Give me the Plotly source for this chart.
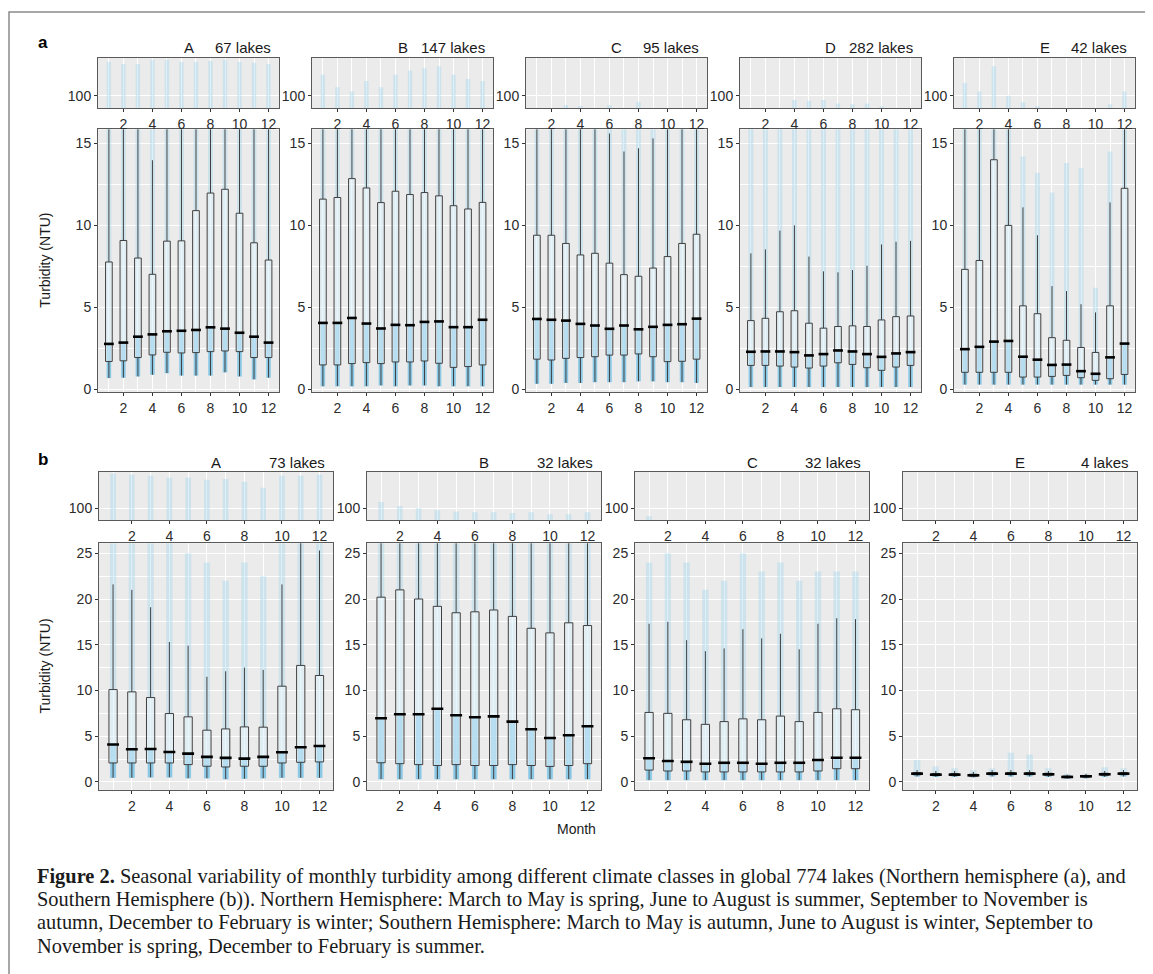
import plotly.graph_objects as go

W, H = 1153, 974
MONTHS = list(range(1, 13))

# ---------------- Northern Hemisphere (a) ----------------
NH_TITLES = ["A", "B", "C", "D", "E"]
NH_LAKES = ["67 lakes", "147 lakes", "95 lakes", "282 lakes", "42 lakes"]

NH_A_Q1 = [1.71, 1.75, 1.95, 2.11, 2.27, 2.23, 2.25, 2.31, 2.35, 2.31, 1.95, 1.95]
NH_A_MED = [2.78, 2.86, 3.22, 3.36, 3.55, 3.58, 3.63, 3.79, 3.71, 3.46, 3.22, 2.86]
NH_A_Q3 = [7.77, 9.08, 8.01, 7.02, 9.04, 9.06, 10.9, 11.97, 12.2, 10.74, 8.94, 7.89]
NH_A_LO = [0.70, 0.72, 0.80, 0.90, 1.00, 0.85, 0.85, 0.85, 1.05, 0.80, 0.62, 0.72]
NH_A_HI = [16.9, 19.1, 17.1, 13.97, 19.2, 19.3, 23.9, 26.4, 26.9, 23.4, 19.4, 16.8]
NH_A_PTMAX = [15.9, 15.9, 15.9, 15.9, 15.9, 15.9, 15.9, 15.9, 15.9, 15.9, 15.9, 15.9]
NH_A_OUT = [180, 175, 175, 185, 185, 180, 180, 182, 185, 180, 178, 175]

NH_B_Q1 = [1.50, 1.50, 1.58, 1.64, 1.58, 1.68, 1.68, 1.74, 1.60, 1.35, 1.40, 1.50]
NH_B_MED = [4.06, 4.06, 4.36, 4.02, 3.72, 3.94, 3.92, 4.12, 4.15, 3.80, 3.80, 4.25]
NH_B_Q3 = [11.6, 11.7, 12.85, 12.28, 11.39, 12.08, 11.88, 12.0, 11.8, 11.2, 11.0, 11.4]
NH_B_LO = [0.20, 0.20, 0.20, 0.20, 0.25, 0.20, 0.25, 0.25, 0.20, 0.20, 0.20, 0.20]
NH_B_HI = [26.7, 27.0, 29.7, 28.2, 26.1, 27.7, 27.2, 27.4, 27.1, 26.0, 25.4, 26.3]
NH_B_PTMAX = [15.9, 15.9, 15.9, 15.9, 15.9, 15.9, 15.9, 15.9, 15.9, 15.9, 15.9, 15.9]
NH_B_OUT = [150, 120, 110, 135, 120, 150, 160, 165, 170, 150, 140, 135]

NH_C_Q1 = [1.85, 1.80, 1.90, 1.95, 2.00, 2.10, 2.10, 2.17, 2.00, 1.70, 1.72, 1.85]
NH_C_MED = [4.30, 4.25, 4.20, 4.00, 3.90, 3.70, 3.90, 3.67, 3.82, 3.94, 3.98, 4.32]
NH_C_Q3 = [9.40, 9.40, 8.90, 8.20, 8.30, 7.70, 7.00, 6.90, 7.40, 8.10, 8.90, 9.46]
NH_C_LO = [0.35, 0.35, 0.40, 0.40, 0.45, 0.45, 0.45, 0.50, 0.50, 0.45, 0.45, 0.40]
NH_C_HI = [17.5, 17.8, 16.4, 16.0, 16.2, 15.6, 14.5, 14.7, 15.3, 17.6, 19.6, 20.8]
NH_C_PTMAX = [15.9, 15.9, 15.9, 15.9, 15.9, 15.9, 15.9, 15.9, 15.9, 15.9, 15.9, 15.9]
NH_C_OUT = [0, 0, 78, 76, 0, 78, 0, 86, 0, 0, 0, 0]

NH_D_Q1 = [1.47, 1.47, 1.43, 1.37, 1.31, 1.43, 1.63, 1.53, 1.33, 1.17, 1.37, 1.47]
NH_D_MED = [2.30, 2.32, 2.32, 2.28, 2.08, 2.16, 2.38, 2.32, 2.16, 1.99, 2.20, 2.28]
NH_D_Q3 = [4.20, 4.34, 4.74, 4.80, 4.04, 3.74, 3.84, 3.88, 3.84, 4.24, 4.44, 4.48]
NH_D_LO = [0.15, 0.15, 0.15, 0.15, 0.15, 0.15, 0.15, 0.15, 0.15, 0.15, 0.15, 0.15]
NH_D_HI = [8.30, 8.54, 9.68, 10.0, 8.10, 7.20, 7.14, 7.28, 7.54, 8.84, 9.00, 9.06]
NH_D_PTMAX = [15.9, 15.9, 15.9, 15.9, 15.9, 15.9, 15.9, 15.9, 15.9, 15.9, 15.9, 15.9]
NH_D_OUT = [0, 0, 0, 90, 88, 90, 82, 80, 82, 75, 0, 0]

NH_E_Q1 = [1.05, 1.05, 1.05, 1.05, 0.76, 0.76, 0.80, 0.86, 0.72, 0.56, 0.66, 0.92]
NH_E_MED = [2.46, 2.60, 2.92, 2.96, 2.00, 1.82, 1.50, 1.52, 1.12, 0.96, 1.96, 2.80]
NH_E_Q3 = [7.32, 7.86, 14.0, 10.0, 5.10, 4.62, 3.16, 3.00, 2.56, 2.26, 5.10, 12.26]
NH_E_LO = [0.30, 0.30, 0.30, 0.30, 0.30, 0.30, 0.30, 0.30, 0.30, 0.30, 0.30, 0.30]
NH_E_HI = [16.0, 17.0, 20.0, 18.0, 11.1, 9.4, 6.3, 6.0, 5.2, 4.7, 11.4, 20.0]
NH_E_PTMAX = [15.9, 15.9, 15.9, 15.9, 14.2, 13.2, 12.0, 13.8, 13.5, 6.2, 14.5, 15.9]
NH_E_OUT = [130, 110, 170, 100, 85, 75, 0, 0, 0, 0, 80, 110]

# ---------------- Southern Hemisphere (b) ----------------
SH_TITLES = ["A", "B", "C", "E"]
SH_LAKES = ["73 lakes", "32 lakes", "32 lakes", "4 lakes"]

SH_A_Q1 = [2.08, 2.08, 2.08, 2.08, 1.90, 1.72, 1.64, 1.72, 1.72, 2.08, 2.15, 2.19]
SH_A_MED = [4.09, 3.58, 3.61, 3.28, 3.10, 2.74, 2.63, 2.55, 2.74, 3.25, 3.80, 3.94]
SH_A_Q3 = [10.1, 9.85, 9.23, 7.48, 7.12, 5.66, 5.80, 6.02, 5.99, 10.47, 12.74, 11.64]
SH_A_LO = [0.45, 0.45, 0.50, 0.50, 0.40, 0.40, 0.30, 0.35, 0.40, 0.45, 0.45, 0.45]
SH_A_HI = [21.6, 21.0, 19.1, 15.3, 14.9, 11.5, 12.1, 12.5, 12.25, 21.6, 27.5, 25.3]
SH_A_PTMAX = [26.1, 26.1, 26.1, 26.1, 25.0, 24.0, 22.0, 24.0, 22.5, 26.1, 26.1, 26.1]
SH_A_OUT = [185, 182, 180, 175, 175, 170, 172, 165, 150, 180, 180, 182]

SH_B_Q1 = [2.1, 2.0, 1.9, 1.8, 1.9, 1.8, 1.8, 1.9, 1.8, 1.7, 1.8, 2.0]
SH_B_MED = [6.96, 7.4, 7.4, 8.0, 7.3, 7.07, 7.17, 6.6, 5.76, 4.8, 5.1, 6.1]
SH_B_Q3 = [20.2, 21.0, 20.0, 19.2, 18.5, 18.6, 18.8, 18.1, 16.8, 16.3, 17.4, 17.1]
SH_B_LO = [0.3, 0.3, 0.3, 0.3, 0.3, 0.3, 0.3, 0.3, 0.3, 0.3, 0.3, 0.3]
SH_B_HI = [47.3, 49.0, 47.2, 45.3, 43.4, 43.8, 44.3, 42.4, 39.3, 38.2, 40.8, 39.8]
SH_B_PTMAX = [26.1, 26.1, 26.1, 26.1, 26.1, 26.1, 26.1, 26.1, 26.1, 26.1, 26.1, 26.1]
SH_B_OUT = [115, 105, 100, 95, 92, 90, 90, 88, 90, 85, 85, 90]

SH_C_Q1 = [1.3, 1.2, 1.2, 1.1, 1.1, 1.1, 1.1, 1.1, 1.1, 1.2, 1.45, 1.45]
SH_C_MED = [2.6, 2.3, 2.2, 2.0, 2.1, 2.1, 2.0, 2.1, 2.1, 2.4, 2.65, 2.65]
SH_C_Q3 = [7.6, 7.5, 6.8, 6.3, 6.6, 6.9, 6.8, 7.2, 6.6, 7.6, 8.0, 7.9]
SH_C_LO = [0.2, 0.2, 0.2, 0.2, 0.2, 0.2, 0.2, 0.2, 0.2, 0.2, 0.2, 0.2]
SH_C_HI = [17.3, 17.5, 15.5, 14.3, 14.6, 16.7, 15.7, 16.2, 14.5, 17.3, 17.9, 17.8]
SH_C_PTMAX = [24.0, 25.0, 24.0, 21.0, 22.0, 25.0, 23.0, 24.0, 22.0, 23.0, 23.0, 23.0]
SH_C_OUT = [80, 0, 0, 0, 0, 0, 0, 0, 0, 0, 0, 0]

SH_E_Q1 = [0.79, 0.70, 0.70, 0.63, 0.80, 0.81, 0.80, 0.74, 0.47, 0.54, 0.74, 0.80]
SH_E_MED = [0.91, 0.80, 0.80, 0.73, 0.91, 0.91, 0.91, 0.84, 0.55, 0.62, 0.84, 0.91]
SH_E_Q3 = [1.02, 0.92, 0.92, 0.84, 1.02, 1.02, 1.02, 0.95, 0.64, 0.71, 0.95, 1.02]
SH_E_LO = [0.60, 0.55, 0.55, 0.50, 0.60, 0.60, 0.60, 0.55, 0.35, 0.40, 0.55, 0.60]
SH_E_HI = [1.30, 1.20, 1.20, 1.10, 1.30, 1.30, 1.30, 1.20, 0.80, 0.90, 1.20, 1.30]
SH_E_PTMAX = [2.4, 1.7, 1.5, 1.3, 1.5, 3.2, 3.0, 1.5, 0.9, 0.9, 1.6, 1.5]
SH_E_OUT = [0, 0, 0, 0, 0, 0, 0, 0, 0, 0, 0, 0]

X_TICKS = [2, 4, 6, 8, 10, 12]
NH_Y_TICKS = [0, 5, 10, 15]
SH_Y_TICKS = [0, 5, 10, 15, 20, 25]
STRIP_TICK = [100]

CAPTION = [
    "<b>Figure 2.</b> Seasonal variability of monthly turbidity among different climate classes in global 774 lakes (Northern hemisphere (a), and",
    "Southern Hemisphere (b)). Northern Hemisphere: March to May is spring, June to August is summer, September to November is",
    "autumn, December to February is winter; Southern Hemisphere: March to May is autumn, June to August is winter, September to",
    "November is spring, December to February is summer.",
]

# ---------------- layout geometry (page pixels) ----------------
OFF = 8                      # page body margin
FW, FH = W - OFF, H - OFF    # figure size so it fits the window
FONT = "Liberation Sans, Arial, sans-serif"
TXT = "#1a1a1a"
BORDER = "#5a5a5a"

panels = []
nh_data = [
    (NH_A_Q1, NH_A_MED, NH_A_Q3, NH_A_LO, NH_A_HI, NH_A_PTMAX, NH_A_OUT),
    (NH_B_Q1, NH_B_MED, NH_B_Q3, NH_B_LO, NH_B_HI, NH_B_PTMAX, NH_B_OUT),
    (NH_C_Q1, NH_C_MED, NH_C_Q3, NH_C_LO, NH_C_HI, NH_C_PTMAX, NH_C_OUT),
    (NH_D_Q1, NH_D_MED, NH_D_Q3, NH_D_LO, NH_D_HI, NH_D_PTMAX, NH_D_OUT),
    (NH_E_Q1, NH_E_MED, NH_E_Q3, NH_E_LO, NH_E_HI, NH_E_PTMAX, NH_E_OUT),
]
sh_data = [
    (SH_A_Q1, SH_A_MED, SH_A_Q3, SH_A_LO, SH_A_HI, SH_A_PTMAX, SH_A_OUT),
    (SH_B_Q1, SH_B_MED, SH_B_Q3, SH_B_LO, SH_B_HI, SH_B_PTMAX, SH_B_OUT),
    (SH_C_Q1, SH_C_MED, SH_C_Q3, SH_C_LO, SH_C_HI, SH_C_PTMAX, SH_C_OUT),
    (SH_E_Q1, SH_E_MED, SH_E_Q3, SH_E_LO, SH_E_HI, SH_E_PTMAX, SH_E_OUT),
]
for i, d in enumerate(nh_data):
    left = 98 + 214 * i
    panels.append(dict(data=d, title=NH_TITLES[i], lakes=NH_LAKES[i], x0=left, x1=left + 181,
                       main=(130, 394), strip=(58, 109), yr=[-0.15, 15.85], yt=NH_Y_TICKS,
                       ty=48, mk=7, bw=0.46))
for i, d in enumerate(sh_data):
    left = 99 + 268 * i
    panels.append(dict(data=d, title=SH_TITLES[i], lakes=SH_LAKES[i], x0=left, x1=left + 234,
                       main=(546, 794), strip=(474, 523), yr=[-0.87, 26.1], yt=SH_Y_TICKS,
                       ty=465, mk=8.5, bw=0.44))

STRIP_RANGE = [70, 190]
XR = [0.25, 12.72]


def px(xp):
    return (xp - OFF) / FW


def py(yp):
    return 1 - (yp - OFF) / FH


fig = go.Figure()
layout = dict(width=FW, height=FH, margin=dict(l=0, r=0, t=0, b=0),
              paper_bgcolor="white", plot_bgcolor="#EBEBEB", showlegend=False,
              barmode="overlay", font=dict(family=FONT, color=TXT, size=14))
annotations = []

tickfont = dict(family=FONT, size=14, color="#2b2b2b")

for k, p in enumerate(panels):
    q1, med, q3, lo, hi, ptmax, out = p["data"]
    im, istr = 2 * k + 1, 2 * k + 2
    xm, ym = f"x{im}", f"y{im}"
    xs, ys = f"x{istr}", f"y{istr}"
    common_x = dict(range=XR, tickvals=X_TICKS, ticks="outside", ticklen=3, tickcolor="#333",
                    tickfont=tickfont, showline=True, mirror=True, linecolor=BORDER, linewidth=1,
                    showgrid=True, gridcolor="white", gridwidth=1.1, zeroline=False,
                    minor=dict(tick0=1, dtick=2, showgrid=True, gridcolor="white", gridwidth=0.5),
                    domain=[px(p["x0"]), px(p["x1"])])
    layout[f"xaxis{im}"] = dict(common_x, anchor=ym)
    layout[f"xaxis{istr}"] = dict(common_x, anchor=ys)
    layout[f"yaxis{im}"] = dict(range=p["yr"], tickvals=p["yt"], ticks="outside", ticklen=3,
                                tickcolor="#333", tickfont=tickfont, showline=True, mirror=True,
                                linecolor=BORDER, linewidth=1, showgrid=True, gridcolor="white",
                                gridwidth=1.1, zeroline=False,
                                minor=dict(dtick=2.5, tick0=0, showgrid=True, gridcolor="white", gridwidth=0.5),
                                domain=[py(p["main"][1]), py(p["main"][0])], anchor=xm)
    layout[f"yaxis{istr}"] = dict(range=STRIP_RANGE, tickvals=STRIP_TICK, ticks="outside", ticklen=3,
                                  tickcolor="#333", tickfont=tickfont, showline=True, mirror=True,
                                  linecolor=BORDER, linewidth=1, showgrid=True, gridcolor="white",
                                  gridwidth=1.1, zeroline=False,
                                  domain=[py(p["strip"][1]), py(p["strip"][0])], anchor=xs)

    # faint jittered-point band
    fig.add_trace(go.Bar(x=MONTHS, base=lo, y=[t - b for t, b in zip(ptmax, lo)], width=0.34,
                         marker=dict(color="rgba(135,206,235,0.30)", line=dict(width=0)),
                         xaxis=xm, yaxis=ym, hoverinfo="skip"))
    # dense point band (lower part of distribution)
    fig.add_trace(go.Bar(x=MONTHS, base=lo, y=[m - b for m, b in zip(med, lo)], width=0.30,
                         marker=dict(color="rgba(110,190,228,0.70)", line=dict(width=0)),
                         xaxis=xm, yaxis=ym, hoverinfo="skip"))
    fig.add_trace(go.Box(x=MONTHS, q1=q1, median=med, q3=q3, lowerfence=lo, upperfence=hi,
                         boxpoints=False, width=p["bw"], whiskerwidth=0,
                         fillcolor="rgba(255,255,255,0.38)", line=dict(color="#3f3f3f", width=1),
                         xaxis=xm, yaxis=ym, hoverinfo="skip"))
    fig.add_trace(go.Scatter(x=MONTHS, y=med, mode="markers",
                             marker=dict(symbol="line-ew", size=p["mk"],
                                         line=dict(width=2.6, color="black")),
                             xaxis=xm, yaxis=ym, hoverinfo="skip"))
    # outlier strip
    fig.add_trace(go.Bar(x=MONTHS, base=[STRIP_RANGE[0]] * 12,
                         y=[max(0, o - STRIP_RANGE[0]) for o in out], width=0.3,
                         marker=dict(color="rgba(135,206,235,0.30)", line=dict(width=0)),
                         xaxis=xs, yaxis=ys, hoverinfo="skip"))

    cx = (p["x0"] + p["x1"]) / 2
    annotations.append(dict(text=p["title"], x=px(cx), y=py(p["ty"]), xref="paper", yref="paper",
                            showarrow=False, xanchor="center", yanchor="middle",
                            font=dict(family=FONT, size=15, color=TXT)))
    annotations.append(dict(text=p["lakes"], x=px(p["x1"] - 6), y=py(p["ty"]), xref="paper",
                            yref="paper", showarrow=False, xanchor="right", yanchor="middle",
                            font=dict(family=FONT, size=15, color=TXT)))

# panel letters
for lab, yy in (("a", 43), ("b", 462)):
    annotations.append(dict(text=f"<b>{lab}</b>", x=px(36), y=py(yy), xref="paper", yref="paper",
                            showarrow=False, xanchor="left", yanchor="middle",
                            font=dict(family=FONT, size=17, color="black")))
# y axis titles
for yy in (262, 670):
    annotations.append(dict(text="Turbidity (NTU)", x=px(45), y=py(yy), xref="paper", yref="paper",
                            showarrow=False, textangle=-90, xanchor="center", yanchor="middle",
                            font=dict(family=FONT, size=14, color=TXT)))
annotations.append(dict(text="Month", x=px(576), y=py(833), xref="paper", yref="paper",
                        showarrow=False, xanchor="center", yanchor="middle",
                        font=dict(family=FONT, size=14, color=TXT)))
# caption
for i, line in enumerate(CAPTION):
    annotations.append(dict(text=line, x=px(35), y=py(881 + 23.3 * i), xref="paper", yref="paper",
                            showarrow=False, xanchor="left", yanchor="middle",
                            font=dict(family="Liberation Serif, Times New Roman, serif", size=20.4,
                                      color="#1a1a1a")))

layout["annotations"] = annotations
layout["shapes"] = [dict(type="rect", xref="paper", yref="paper", x0=px(9), x1=px(1149),
                         y0=py(12), y1=py(1000), line=dict(color="#8a8a8a", width=1.5),
                         fillcolor="rgba(0,0,0,0)", layer="below")]
fig.update_layout(**layout)
fig.write_html("out.html")
